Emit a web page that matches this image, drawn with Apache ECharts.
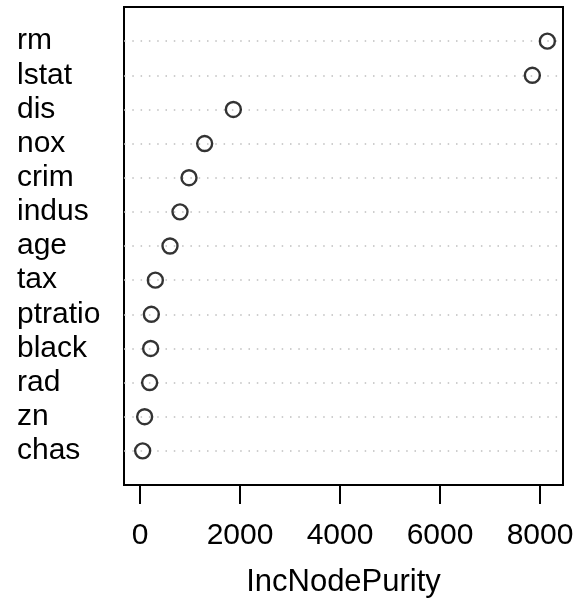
<!DOCTYPE html>
<html>
<head>
<meta charset="utf-8">
<script src="https://cdn.jsdelivr.net/npm/echarts@6/dist/echarts.min.js"></script>
<style>
html, body { margin: 0; padding: 0; background: #fff; }
#main { width: 585px; height: 603px; }
</style>
</head>
<body>
<div id="main"></div>
<script>
// variables, bottom to top as in the dotchart
var variables = ["chas", "zn", "rad", "black", "ptratio", "tax", "age", "indus", "crim", "nox", "dis", "lstat", "rm"];
var purity = [53, 93, 193, 213, 227, 307, 600, 800, 980, 1293, 1867, 7847, 8147];
var xTicks = [0, 2000, 4000, 6000, 8000];

// pad one empty row on each end so the rows sit inside the box like R's ylim
var cats = [""].concat(variables, [""]);
var points = variables.map(function (v, i) { return [purity[i], v]; });

var font = "Liberation Sans, Arial, sans-serif";
var myChart = echarts.init(document.getElementById("main"));
myChart.setOption({
  animation: false,
  grid: {
    left: 124, right: 22, top: 7, bottom: 115,
    show: true, borderColor: "#000", borderWidth: 2, backgroundColor: "transparent"
  },
  xAxis: {
    type: "value",
    min: -320,
    max: 8460,
    name: "IncNodePurity",
    nameLocation: "middle",
    nameGap: 82,
    nameTextStyle: { color: "#000", fontSize: 31, fontFamily: font },
    axisLine: { show: false },
    axisTick: { show: true, length: 19, customValues: xTicks, lineStyle: { color: "#000", width: 2 } },
    axisLabel: {
      customValues: xTicks, color: "#000", fontSize: 30, fontFamily: font, margin: 36,
      formatter: function (v) { return String(v); }
    },
    splitLine: { show: false }
  },
  yAxis: {
    type: "category",
    data: cats,
    boundaryGap: false,
    axisLine: { show: false },
    axisTick: { show: false },
    axisLabel: { align: "left", margin: 107, color: "#000", fontSize: 30, fontFamily: font, interval: 0 },
    splitLine: {
      show: true,
      interval: function (idx) { return idx > 0 && idx < cats.length - 1; },
      lineStyle: { color: "#bebebe", width: 1.5, type: [1.5, 6.8] }
    }
  },
  series: [{
    type: "scatter",
    data: points,
    symbol: "circle",
    symbolSize: 15,
    itemStyle: { color: "rgba(255,255,255,0)", borderColor: "#000", borderWidth: 2.4 }
  }]
});
</script>
</body>
</html>
